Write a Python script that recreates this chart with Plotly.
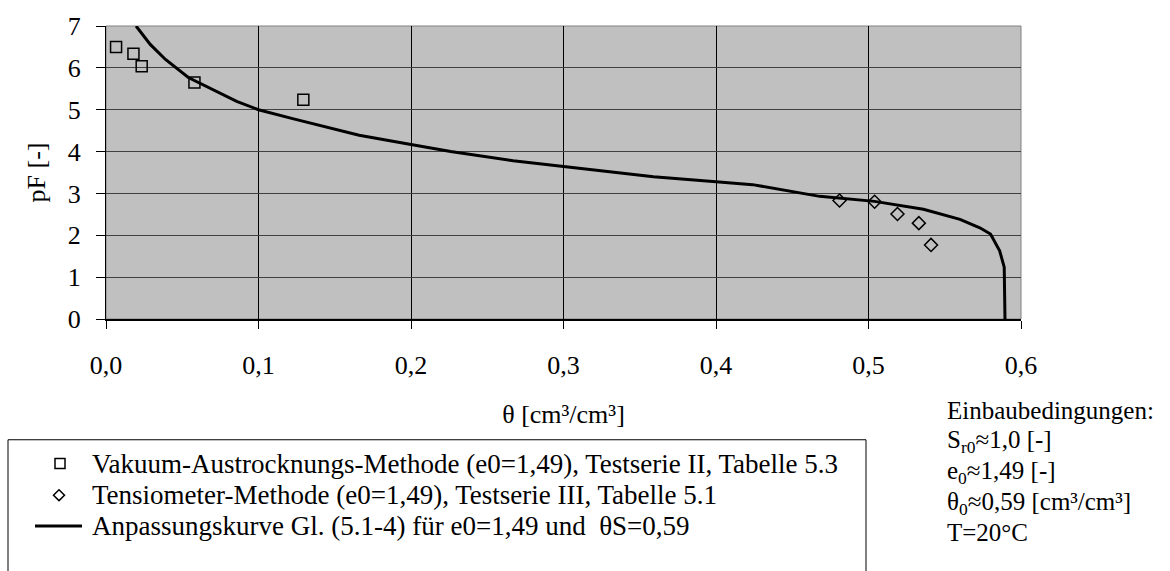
import plotly.graph_objects as go

# Vakuum-Austrocknungs-Methode, Testserie II (Tabelle 5.3)
theta_vakuum = [0.0066, 0.018, 0.0234, 0.058, 0.1294]
pf_vakuum = [6.50, 6.34, 6.04, 5.65, 5.24]

# Tensiometer-Methode, Testserie III (Tabelle 5.1)
theta_tensio = [0.481, 0.504, 0.519, 0.533, 0.541]
pf_tensio = [2.83, 2.80, 2.51, 2.29, 1.77]

# Anpassungskurve Gl. (5.1-4), e0=1,49, theta_s=0,59
theta_fit = [0.0197, 0.029, 0.039, 0.054, 0.0857, 0.100, 0.123, 0.166, 0.200,
             0.226, 0.267, 0.300, 0.359, 0.400, 0.424, 0.468, 0.504, 0.536,
             0.560, 0.573, 0.580, 0.586, 0.589, 0.5895]
pf_fit = [7.00, 6.56, 6.20, 5.77, 5.20, 5.00, 4.78, 4.39, 4.17,
          4.00, 3.78, 3.64, 3.40, 3.28, 3.21, 2.93, 2.81, 2.62,
          2.38, 2.18, 2.03, 1.63, 1.24, 0.00]

x_ticks = [0.0, 0.1, 0.2, 0.3, 0.4, 0.5, 0.6]
y_ticks = [0, 1, 2, 3, 4, 5, 6, 7]

series_names = [
    "Vakuum-Austrocknungs-Methode (e0=1,49), Testserie II, Tabelle 5.3",
    "Tensiometer-Methode (e0=1,49), Testserie III, Tabelle 5.1",
    "Anpassungskurve Gl. (5.1-4) für e0=1,49 und  θS=0,59",
]

conditions = [
    "Einbaubedingungen:",
    "S<sub>r0</sub>≈1,0 [-]",
    "e<sub>0</sub>≈1,49 [-]",
    "θ<sub>0</sub>≈0,59 [cm³/cm³]",
    "T=20°C",
]

FONT = "Liberation Serif"
W, H = 1170, 571
L, R, T, B = 106, 149, 23, 252
PW, PH = W - L - R, H - T - B


def px_x(x):
    return (x - L) / PW


def px_y(y):
    return (H - B - y) / PH


fig = go.Figure()

fig.add_trace(go.Scatter(
    x=theta_vakuum, y=pf_vakuum, mode="markers", name=series_names[0],
    marker=dict(symbol="square-open", size=11, color="black", line=dict(width=1.5)),
))
fig.add_trace(go.Scatter(
    x=theta_tensio, y=pf_tensio, mode="markers", name=series_names[1],
    marker=dict(symbol="diamond-open", size=10, color="black", line=dict(width=1.5)),
))
fig.add_trace(go.Scatter(
    x=theta_fit, y=pf_fit, mode="lines", name=series_names[2],
    line=dict(color="black", width=3),
))

# plot frame (top/right in grey)
fig.add_shape(type="rect", xref="paper", yref="paper", x0=0, x1=1, y0=0, y1=1,
              line=dict(color="#808080", width=1), layer="below")

# legend: box, keys and labels
fig.add_shape(type="rect", xref="paper", yref="paper",
              x0=px_x(8), x1=px_x(866), y0=px_y(441), y1=px_y(590),
              line=dict(color="black", width=1))
row_y = [465, 497, 528]
fig.add_shape(type="rect", xref="paper", yref="paper",
              x0=px_x(55), x1=px_x(65), y0=px_y(row_y[0] - 5), y1=px_y(row_y[0] + 5),
              line=dict(color="black", width=1.5))
cx, cy, r = 59, row_y[1], 5.5
fig.add_shape(type="path", xref="paper", yref="paper",
              path=(f"M {px_x(cx)},{px_y(cy - r)} L {px_x(cx + r)},{px_y(cy)} "
                    f"L {px_x(cx)},{px_y(cy + r)} L {px_x(cx - r)},{px_y(cy)} Z"),
              line=dict(color="black", width=1.5))
fig.add_shape(type="line", xref="paper", yref="paper",
              x0=px_x(35), x1=px_x(82), y0=px_y(row_y[2]), y1=px_y(row_y[2]),
              line=dict(color="black", width=3))
for name, y in zip(series_names, row_y):
    fig.add_annotation(
        text=name, xref="paper", yref="paper", x=px_x(90), y=px_y(y),
        xanchor="left", yanchor="middle", showarrow=False,
        font=dict(family=FONT, size=27, color="black"),
    )

for txt, y in zip(conditions, [411, 443, 474, 505, 535]):
    fig.add_annotation(
        text=txt, xref="paper", yref="paper", x=px_x(945), y=px_y(y),
        xanchor="left", yanchor="middle", showarrow=False,
        font=dict(family=FONT, size=25, color="black"),
    )

fig.update_layout(
    width=W, height=H,
    margin=dict(l=L, r=R, t=T, b=B),
    paper_bgcolor="white",
    plot_bgcolor="#C0C0C0",
    separators=",.",
    font=dict(family=FONT, size=26, color="black"),
    showlegend=False,
)

fig.update_xaxes(
    range=[0, 0.6], tickvals=x_ticks, tickformat=".1f",
    showgrid=True, gridcolor="#000000", gridwidth=1,
    showline=True, linecolor="black", linewidth=2,
    ticks="outside", ticklen=8, tickcolor="black", tickwidth=1,
    ticklabelstandoff=14, zeroline=False,
    title=dict(text="θ [cm³/cm³]", standoff=26, font=dict(family=FONT, size=26)),
)
fig.update_yaxes(
    range=[0, 7], tickvals=y_ticks, tickformat="d",
    showgrid=True, gridcolor="#404040", gridwidth=1,
    showline=True, linecolor="black", linewidth=1,
    ticks="outside", ticklen=9, tickcolor="black", tickwidth=1,
    ticklabelstandoff=10, zeroline=False,
    title=dict(text="pF [-]", standoff=14, font=dict(family=FONT, size=26)),
)

fig.write_html("out.html")
